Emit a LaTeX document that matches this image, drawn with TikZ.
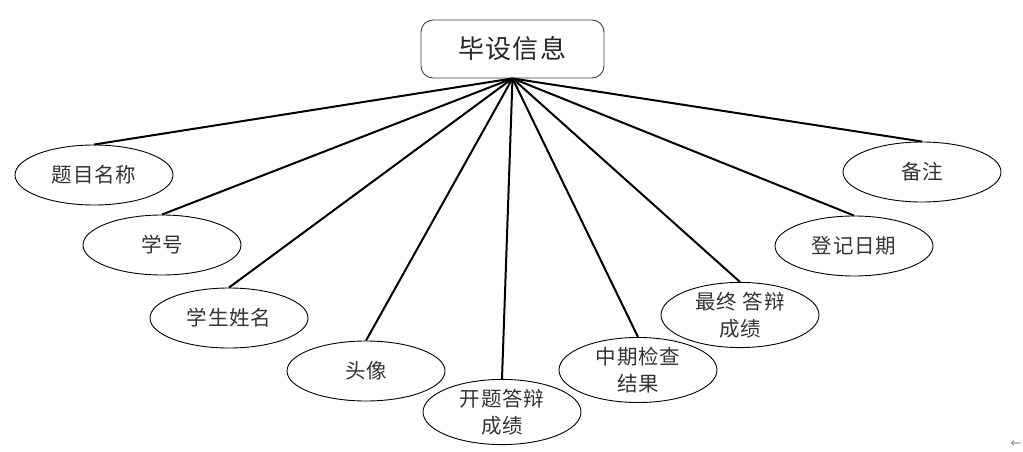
\documentclass[tikz,border=0pt]{standalone}
\usepackage{fontspec}
\newfontfamily\cjk[LetterSpace=4]{Noto Sans CJK SC}
\newfontfamily\dv{DejaVu Sans}
\usetikzlibrary{shapes.geometric}
\tikzset{
  attr/.style={ellipse, draw=black, line width=0.9pt, minimum width=158pt, minimum height=60pt, inner sep=0pt, align=center, font=\cjk\fontsize{20.5}{28}\selectfont, text=black!80},
  topbox/.style={rectangle, rounded corners=12pt, draw=black!75, line width=0.9pt, minimum width=183pt, minimum height=58pt, font=\cjk\fontsize{26}{30}\selectfont, text=black!85},
  link/.style={line width=2pt, black}
}
\begin{document}
\begin{tikzpicture}[x=1pt,y=-1pt]
\useasboundingbox (0,0) rectangle (1023,452);
\node[topbox] (top) at (512.5,49) {毕设信息};
\node[attr] (a1) at (94,175) {题目名称};
\node[attr] (a2) at (162,245) {学号};
\node[attr] (a3) at (229,318) {学生姓名};
\node[attr] (a4) at (366,371) {头像};
\node[attr] (a5) at (502,412) {开题答辩\\[-1pt]成绩};
\node[attr] (a6) at (638,370) {中期检查\\[-1pt]结果};
\node[attr] (a7) at (740,315) {最终 答辩\\[-1pt]成绩};
\node[attr] (a8) at (854,246) {登记日期};
\node[attr] (a9) at (922,172) {备注};
\foreach \i in {1,...,9} {\draw[link] (top.south) -- (a\i.north);}
\node[font=\dv\fontsize{13}{14}\selectfont, text=black!45, inner sep=0pt] (arr) at (1016,444) {←};
\end{tikzpicture}
\end{document}
